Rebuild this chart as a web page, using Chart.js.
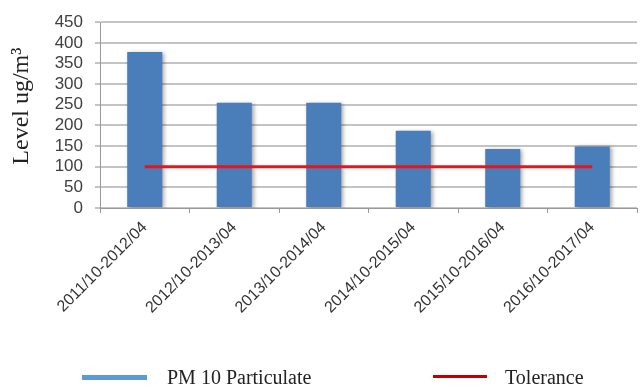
<!DOCTYPE html>
<html>
<head>
<meta charset="utf-8">
<script src="https://cdn.jsdelivr.net/npm/chart.js@4/dist/chart.umd.min.js"></script>
<style>
  html, body { margin: 0; padding: 0; background: #fff; }
  #wrap { position: relative; width: 642px; height: 386px; }
  #chart { position: absolute; left: 0; top: 0; }
  .key { position: absolute; }
  .lbl { position: absolute; font-family: "Liberation Serif", "Times New Roman", serif; font-size: 20px; color: #222; line-height: 20px; white-space: nowrap; }
</style>
</head>
<body>
<div id="wrap">
  <canvas id="chart" width="642" height="386"></canvas>
  <div id="legend"></div>
</div>
<script>
// Winter-season PM10 levels against the tolerance limit
const seasons = ['2011/10-2012/04', '2012/10-2013/04', '2013/10-2014/04',
                 '2014/10-2015/04', '2015/10-2016/04', '2016/10-2017/04'];
const pm10 = [378, 255, 255, 187, 143, 149];
const tolerance = [100, 100, 100, 100, 100, 100];
const seriesNames = ['PM 10 Particulate', 'Tolerance'];
const yTicks = [0, 50, 100, 150, 200, 250, 300, 350, 400, 450];
const yTitle = 'Level ug/m³';

const barBlue = '#4a7ebb';
const keyBlue = '#5b9bd5';
const lineRed = '#e3161b';
const keyRed = '#c00000';

// soft drop shadow behind the bars
const barShadow = {
  id: 'barShadow',
  beforeDatasetDraw(chart, args) {
    if (args.meta.type !== 'bar') return;
    const ctx = chart.ctx;
    ctx.save();
    ctx.shadowColor = 'rgba(0,0,0,0.35)';
    ctx.shadowBlur = 4;
    ctx.shadowOffsetX = 2;
    ctx.shadowOffsetY = 1;
  },
  afterDatasetDraw(chart, args) {
    if (args.meta.type !== 'bar') return;
    chart.ctx.restore();
  }
};

// vertical axis title, set a little above the plot's middle
const axisTitle = {
  id: 'axisTitle',
  afterDraw(chart) {
    const ctx = chart.ctx;
    const area = chart.chartArea;
    ctx.save();
    ctx.translate(22, (area.top + area.bottom) / 2 - 9);
    ctx.rotate(-Math.PI / 2);
    ctx.font = '24px "Liberation Serif", "Times New Roman", serif';
    ctx.fillStyle = '#222';
    ctx.textAlign = 'center';
    ctx.textBaseline = 'middle';
    ctx.fillText(yTitle, 0, 0);
    ctx.restore();
  }
};

const chart = new Chart(document.getElementById('chart'), {
  type: 'bar',
  data: {
    labels: seasons,
    datasets: [
      {
        type: 'line',
        label: seriesNames[1],
        data: tolerance,
        borderColor: lineRed,
        borderWidth: 3,
        pointRadius: 0,
        fill: false,
        order: 0
      },
      {
        type: 'bar',
        label: seriesNames[0],
        data: pm10,
        backgroundColor: barBlue,
        categoryPercentage: 0.8,
        barPercentage: 0.49,
        order: 1
      }
    ]
  },
  options: {
    responsive: false,
    devicePixelRatio: 1,
    animation: false,
    layout: { padding: { top: 20, right: 5, left: 0, bottom: 0 } },
    plugins: {
      legend: { display: false },
      tooltip: { enabled: false }
    },
    scales: {
      x: {
        grid: { drawOnChartArea: false, drawTicks: true, tickLength: 5, color: '#999', offset: true },
        border: { color: '#999', width: 1 },
        ticks: {
          minRotation: 45, maxRotation: 45, padding: 5,
          autoSkip: false,
          color: '#333',
          font: { family: 'Liberation Sans, Arial, sans-serif', size: 16 }
        },
        afterFit(scale) { scale.height = 178; }
      },
      y: {
        min: 0, max: 450,
        afterBuildTicks(scale) { scale.ticks = yTicks.map(v => ({ value: v })); },
        grid: { color: '#c4c4c4', lineWidth: 2, tickLength: 5, drawTicks: true },
        border: { color: '#999', width: 1 },
        ticks: {
          autoSkip: false,
          padding: 12,
          color: '#404040',
          font: { family: 'Liberation Sans, Arial, sans-serif', size: 17 }
        },
        afterFit(scale) { scale.width = 100; }
      }
    }
  },
  plugins: [barShadow, axisTitle]
});

// legend row under the chart
const legend = document.getElementById('legend');
const keys = [
  { name: seriesNames[0], color: keyBlue, x: 82, w: 65, h: 5, top: 375, textX: 167 },
  { name: seriesNames[1], color: keyRed, x: 433, w: 54, h: 3, top: 375, textX: 505 }
];
keys.forEach(k => {
  const sw = document.createElement('div');
  sw.className = 'key';
  Object.assign(sw.style, { left: k.x + 'px', top: k.top + 'px', width: k.w + 'px', height: k.h + 'px', background: k.color });
  legend.appendChild(sw);
  const t = document.createElement('div');
  t.className = 'lbl';
  t.textContent = k.name;
  Object.assign(t.style, { left: k.textX + 'px', top: '367px' });
  legend.appendChild(t);
});
</script>
</body>
</html>
